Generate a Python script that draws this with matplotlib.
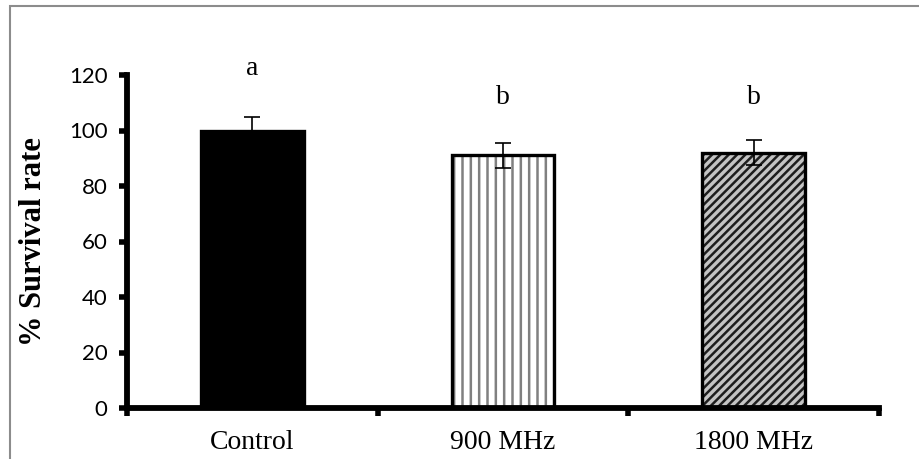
import matplotlib
matplotlib.use('Agg')
import matplotlib.pyplot as plt
from matplotlib.patches import Rectangle

# data
groups = ['Control', '900 MHz', '1800 MHz']
survival = [100, 91, 92]
errors = [5, 4.5, 4.5]
letters = ['a', 'b', 'b']
letter_y = [122.5, 112, 112]
yticks = [0, 20, 40, 60, 80, 100, 120]

plt.rcParams['hatch.linewidth'] = 1.8

fig = plt.figure(figsize=(9.19, 4.59), dpi=100)
fig.patch.set_facecolor('white')

# grey frame (only top/left visible in the original)
fig.patches.append(Rectangle((10 / 919, -0.5), 2, 1.5 - 6 / 459, transform=fig.transFigure,
                             fill=False, edgecolor='#8c8c8c', linewidth=1.5))

ax = fig.add_axes([127 / 919, 1 - 408 / 459, (879 - 127) / 919, (408 - 75) / 459])

x = list(range(len(groups)))
faces = ['black', 'white', '#c4c4c4']
hatches = [None, '||', '////']
hatch_cols = ['black', '#808080', '#1e1e1e']

for i in x:
    ax.bar(i, survival[i], width=0.41, facecolor=faces[i],
           edgecolor=hatch_cols[i], hatch=hatches[i], linewidth=0, zorder=2)
    # black outline drawn separately so hatch colour can differ
    ax.bar(i, survival[i], width=0.41, facecolor='none', edgecolor='black',
           linewidth=2.4, zorder=3)

ax.errorbar(x, survival, yerr=errors, fmt='none', ecolor='black', elinewidth=1.2,
            capsize=6, capthick=1.2, zorder=4)

for i in x:
    ax.text(i, letter_y[i], letters[i], ha='center', va='center',
            fontsize=20, family='Liberation Serif', clip_on=False)

ax.set_xlim(-0.5, 2.5)
ax.set_ylim(0, 120)
ax.set_yticks(yticks)
ax.set_yticklabels([str(v) for v in yticks], family='Lato', fontsize=16)

ax.set_xticks([-0.5, 0.5, 1.5, 2.5])
ax.set_xticklabels([])
ax.set_xticks(x, minor=True)
ax.set_xticklabels(groups, minor=True, family='Liberation Serif', fontsize=20)
ax.tick_params(axis='x', which='minor', length=0, pad=16)
ax.tick_params(axis='x', which='major', length=6, width=4, direction='out')
ax.tick_params(axis='y', length=6, width=4, direction='out', pad=8)

for s in ['top', 'right']:
    ax.spines[s].set_visible(False)
for s in ['left', 'bottom']:
    ax.spines[s].set_linewidth(4.2)

ax.set_ylabel('% Survival rate', family='Liberation Serif', fontweight='bold', fontsize=22)
ax.yaxis.set_label_coords(-0.105, 0.5)

fig.savefig('out.png', dpi=100)
